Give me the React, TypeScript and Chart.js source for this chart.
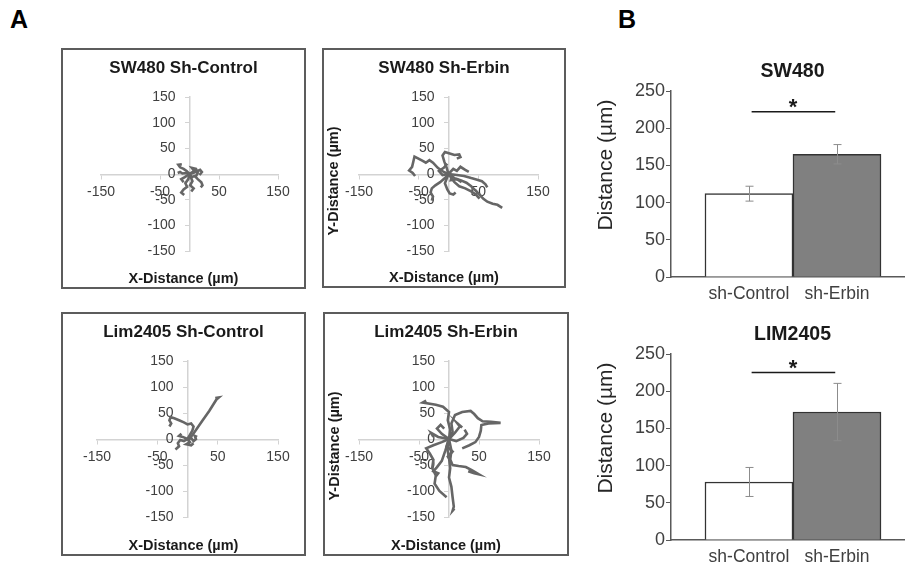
import React, { useEffect, useRef } from "react";
import { Chart, registerables } from "chart.js";

Chart.register(...registerables);

// ---------- DATA ----------
const axisMin = -150;
const axisMax = 150;
const xTickValues = [-150, -50, 50, 150];
const yTickStep = 50;

// cell tracks, [x, y] in µm, starting at the origin
const swControlTracks = [
  [[0, 0], [-5, 6], [-10, 10], [-16, 13], [-19, 18], [-13, 19]],
  [[0, 0], [6, 2], [12, 5], [18, 8], [21, 4], [17, -2]],
  [[0, 0], [-6, 2], [-12, 1], [-16, 4], [-20, 2]],
  [[0, 0], [4, -6], [9, -4], [14, -10], [20, -16], [22, -22], [19, -26]],
  [[0, 0], [-2, -10], [-7, -18], [-4, -25], [-10, -30], [-14, -36], [-9, -41]],
  [[0, 0], [5, -14], [1, -22], [7, -28], [3, -34]],
  [[0, 0], [8, 6], [4, 12], [11, 10], [14, 2], [10, -6]],
  [[0, 0], [-8, -6], [-14, -10], [-10, -16]],
];

const swErbinTracks = [
  [[0, 0], [-8, 4], [-18, 12], [-26, 22], [-32, 27], [-38, 22], [-44, 26], [-52, 31], [-57, 34], [-59, 24], [-61, 14], [-66, 7], [-60, 2], [-56, -4]],
  [[0, 0], [-3, 12], [-7, 24], [-10, 36], [-6, 43], [2, 40], [10, 37], [18, 38], [20, 33], [14, 30]],
  [[0, 0], [10, -8], [20, -12], [30, -17], [38, -24], [45, -32], [52, -40], [58, -48], [65, -54], [74, -58], [82, -60], [90, -66]],
  [[0, 0], [14, -2], [26, -4], [38, -8], [48, -11], [56, -14], [62, -20], [65, -26]],
  [[0, 0], [10, -16], [18, -24], [28, -28], [38, -34], [46, -40], [52, -48]],
  [[0, 0], [-6, -8], [-14, -16], [-22, -22], [-28, -28], [-30, -36], [-26, -44], [-28, -52]],
  [[0, 0], [-6, -18], [-2, -30], [2, -38], [8, -40], [12, -36]],
  [[0, 0], [8, 10], [14, 6], [20, 14], [28, 8], [34, 4]],
  [[0, 0], [-10, -2], [-16, 6], [-8, 12], [-2, 20]],
  [[0, 0], [6, -4], [4, -12], [14, -10], [22, -16]],
];

const limControlTracks = [
  [[2, -2], [12, 14], [24, 34], [36, 54], [48, 76], [52, 80], [46, 79]],
  [[0, 0], [4, 8], [8, 16], [10, 24], [6, 30], [0, 28], [-6, 32], [-14, 36], [-22, 40], [-28, 42], [-30, 36], [-27, 30], [-30, 24]],
  [[0, 0], [-6, -4], [-12, -2], [-16, -8], [-14, -14], [-20, -20]],
  [[0, 0], [6, 2], [10, -4], [14, 0], [12, 6], [16, 4]],
  [[0, 0], [-8, 4], [-14, 6], [-10, 10]],
  [[0, 0], [4, -6], [-2, -10], [6, -12], [10, -8]],
];

const limErbinTracks = [
  [[0, 0], [2, 18], [-2, 36], [0, 52], [-10, 62], [-22, 66], [-44, 70], [-38, 74]],
  [[0, 0], [6, 14], [4, 30], [10, 46], [22, 52], [36, 54], [42, 48], [48, 40], [56, 34], [70, 33], [86, 31], [66, 30], [54, 27], [53, 16], [50, 4], [44, -6], [34, -12], [22, -18]],
  [[0, 0], [-3, -18], [0, -36], [2, -56], [0, -74], [4, -92], [6, -112], [8, -130], [6, -138], [9, -134]],
  [[0, 0], [-12, -6], [-26, -12], [-38, -18], [-32, -28], [-26, -40], [-28, -56], [-22, -70], [-24, -86], [-16, -100], [-4, -112]],
  [[0, 0], [4, -22], [2, -40], [6, -50], [16, -52], [28, -54], [38, -60], [50, -68], [42, -66], [32, -62]],
  [[0, 0], [-6, -22], [-12, -42], [-20, -54], [-26, -62], [-18, -66], [-22, -72]],
  [[0, 0], [-12, 10], [-20, 20], [-14, 27], [-8, 20]],
  [[0, 0], [10, 12], [18, 24], [14, 30], [22, 22]],
  [[0, 0], [-18, 4], [-30, 12], [-26, 4]],
  [[0, 0], [12, -4], [24, 2], [30, 10], [26, 18]],
  [[0, 0], [-4, -14], [6, -24], [-2, -34], [4, -44]],
];

const barCategories = ["sh-Control", "sh-Erbin"];
const sw480Means = [112, 165];
const sw480Errors = [10, 13];
const lim2405Means = [78, 172];
const lim2405Errors = [19.5, 38.5];
const sigLevels = [222, 225];
const barYMax = 250;
const barYStep = 50;

// ---------- STYLE ----------
const FONT = '"Liberation Sans", Arial, sans-serif';
const TRACK_COLOR = "#666666";
const AXIS_LIGHT = "#d3d3d3";
const TICK_COLOR = "#404040";
const TEXT_DARK = "#1a1a1a";

const trackPanels = [
  { key: "p1", x: 61, y: 48, w: 245, h: 241, area: { l: 40, r: 217, t: 49, b: 203 }, title: "SW480 Sh-Control", tracks: swControlTracks, yTitle: false },
  { key: "p2", x: 322, y: 48, w: 244, h: 240, area: { l: 37, r: 216, t: 49, b: 203 }, title: "SW480 Sh-Erbin", tracks: swErbinTracks, yTitle: true },
  { key: "p3", x: 61, y: 312, w: 245, h: 244, area: { l: 36, r: 217, t: 49, b: 205 }, title: "Lim2405 Sh-Control", tracks: limControlTracks, yTitle: false },
  { key: "p4", x: 323, y: 312, w: 246, h: 244, area: { l: 36, r: 216, t: 49, b: 205 }, title: "Lim2405 Sh-Erbin", tracks: limErbinTracks, yTitle: true },
];

function textPlugin(items: any[]) {
  return {
    id: "panelText",
    afterDraw(chart: any) {
      const ctx = chart.ctx;
      for (const t of items) {
        ctx.save();
        ctx.font = t.font;
        ctx.fillStyle = t.color;
        ctx.textAlign = "center";
        ctx.textBaseline = t.baseline || "middle";
        ctx.translate(t.x, t.y);
        if (t.rotate) ctx.rotate(t.rotate);
        ctx.fillText(t.text, 0, 0);
        ctx.restore();
      }
    },
  };
}

function TrackPanel({ p }: any) {
  const ref = useRef<HTMLCanvasElement>(null);
  useEffect(() => {
    const a = p.area;
    const items: any[] = [
      { text: p.title, x: p.w / 2, y: 20.5, font: `bold 17px ${FONT}`, color: TEXT_DARK },
      { text: "X-Distance (µm)", x: p.w / 2, y: p.h - 10, font: `bold 14.5px ${FONT}`, color: TEXT_DARK },
    ];
    if (p.yTitle) {
      items.push({ text: "Y-Distance (µm)", x: 12, y: (a.t + a.b) / 2 + 7, font: `bold 14.5px ${FONT}`, color: TEXT_DARK, rotate: -Math.PI / 2 });
    }
    const chart = new Chart(ref.current as HTMLCanvasElement, {
      type: "scatter",
      data: {
        datasets: p.tracks.map((t: number[][]) => ({
          data: t.map(([x, y]) => ({ x, y })),
          showLine: true,
          pointRadius: 0,
          borderColor: TRACK_COLOR,
          backgroundColor: TRACK_COLOR,
          borderWidth: 2.6,
          tension: 0,
        })),
      },
      options: {
        responsive: false,
        animation: false,
        events: [],
        layout: { padding: { left: a.l, right: p.w - a.r, top: a.t, bottom: p.h - a.b } },
        plugins: { legend: { display: false }, tooltip: { enabled: false } },
        scales: {
          x: {
            type: "linear",
            position: "center",
            min: axisMin,
            max: axisMax,
            afterBuildTicks: (s: any) => {
              s.ticks = xTickValues.map((v) => ({ value: v }));
            },
            afterFit: (s: any) => {
              s.height = 0;
            },
            grid: { drawOnChartArea: false, drawTicks: true, tickLength: 4, color: AXIS_LIGHT, lineWidth: 1 },
            border: { display: true, color: AXIS_LIGHT, width: 1.5 },
            ticks: { font: { family: FONT, size: 14 }, color: TICK_COLOR, padding: 6, maxRotation: 0, autoSkip: false },
          },
          y: {
            type: "linear",
            position: "center",
            min: axisMin,
            max: axisMax,
            afterFit: (s: any) => {
              s.width = 0;
            },
            grid: { drawOnChartArea: false, drawTicks: true, tickLength: 4, color: AXIS_LIGHT, lineWidth: 1 },
            border: { display: true, color: AXIS_LIGHT, width: 1.5 },
            ticks: { stepSize: yTickStep, font: { family: FONT, size: 14 }, color: TICK_COLOR, padding: 10, autoSkip: false },
          },
        },
      } as any,
      plugins: [textPlugin(items)],
    });
    return () => chart.destroy();
  }, []);
  return (
    <div style={{ position: "absolute", left: p.x, top: p.y, width: p.w, height: p.h }}>
      <canvas ref={ref} width={p.w} height={p.h} style={{ position: "absolute", left: 0, top: 0, display: "block" }} />
      <div
        style={{
          position: "absolute",
          left: 0,
          top: 0,
          width: p.w,
          height: p.h,
          border: "2px solid #5c5c5c",
          boxSizing: "border-box",
          pointerEvents: "none",
        }}
      />
    </div>
  );
}

const barPanels = [
  { key: "b1", y: 40, title: "SW480", means: sw480Means, errors: sw480Errors, sig: sigLevels[0] },
  { key: "b2", y: 303, title: "LIM2405", means: lim2405Means, errors: lim2405Errors, sig: sigLevels[1] },
];

const BAR_W = 345;
const BAR_H = 262;

function BarPanel({ b }: any) {
  const ref = useRef<HTMLCanvasElement>(null);
  useEffect(() => {
    const items = [
      { text: "Distance (µm)", x: 26, y: 125, font: `21px ${FONT}`, color: "#262626", rotate: -Math.PI / 2 },
    ];
    const extras = {
      id: "barExtras",
      afterDatasetsDraw(chart: any) {
        const ctx = chart.ctx;
        const ys = chart.scales.y;
        const xs = chart.scales.x;
        const meta = chart.getDatasetMeta(0);
        ctx.save();
        ctx.strokeStyle = "#8c8c8c";
        ctx.lineWidth = 1;
        meta.data.forEach((bar: any, i: number) => {
          const x = Math.round(bar.x) + 0.5;
          const top = ys.getPixelForValue(b.means[i] + b.errors[i]);
          const bot = ys.getPixelForValue(b.means[i] - b.errors[i]);
          ctx.beginPath();
          ctx.moveTo(x, top);
          ctx.lineTo(x, bot);
          ctx.moveTo(x - 4, top);
          ctx.lineTo(x + 4, top);
          ctx.moveTo(x - 4, bot);
          ctx.lineTo(x + 4, bot);
          ctx.stroke();
        });
        // significance bar
        const ly = ys.getPixelForValue(b.sig);
        ctx.strokeStyle = TEXT_DARK;
        ctx.lineWidth = 1.5;
        ctx.beginPath();
        ctx.moveTo(xs.getPixelForValue(0.03), ly);
        ctx.lineTo(xs.getPixelForValue(0.98), ly);
        ctx.stroke();
        ctx.fillStyle = TEXT_DARK;
        ctx.font = `bold 22px ${FONT}`;
        ctx.textAlign = "center";
        ctx.textBaseline = "alphabetic";
        ctx.fillText("*", xs.getPixelForValue(0.5), ly + 2);
        ctx.restore();
      },
    };
    const chart = new Chart(ref.current as HTMLCanvasElement, {
      type: "bar",
      data: {
        datasets: [
          {
            data: b.means.map((m: number, i: number) => ({ x: i, y: m })),
            backgroundColor: ["#ffffff", "#808080"],
            borderColor: "#333333",
            borderWidth: 1.5,
            categoryPercentage: 1,
            barPercentage: 1,
          },
        ],
      },
      options: {
        responsive: false,
        animation: false,
        events: [],
        layout: { padding: { left: 0, right: 11, top: 0, bottom: 0 } },
        plugins: {
          legend: { display: false },
          tooltip: { enabled: false },
          title: {
            display: true,
            text: b.title,
            fullSize: false,
            font: { family: FONT, size: 19.5, weight: "bold" },
            color: TEXT_DARK,
            padding: { top: 20, bottom: 7.6 },
          },
        },
        scales: {
          x: {
            type: "linear",
            position: "bottom",
            offset: false,
            min: -0.886,
            max: 1.875,
            afterBuildTicks: (s: any) => {
              s.ticks = barCategories.map((_, i) => ({ value: i }));
            },
            afterFit: (s: any) => {
              s.height = 25;
            },
            grid: { display: true, drawOnChartArea: false, drawTicks: false, color: "#595959" },
            border: { display: true, color: "#595959", width: 1.5 },
            ticks: {
              callback: (v: any) => barCategories[Math.round(v)],
              font: { family: FONT, size: 17.5 },
              color: TICK_COLOR,
              padding: 7,
              maxRotation: 0,
              autoSkip: false,
            },
          },
          y: {
            type: "linear",
            position: "left",
            min: 0,
            max: barYMax,
            afterFit: (s: any) => {
              s.width = 91;
            },
            grid: { drawOnChartArea: false, drawTicks: true, tickLength: 5, color: "#595959" },
            border: { display: true, color: "#595959", width: 1.5 },
            ticks: { stepSize: barYStep, font: { family: FONT, size: 18 }, color: TICK_COLOR, padding: 1 },
          },
        },
      } as any,
      plugins: [extras, textPlugin(items)],
    });
    return () => chart.destroy();
  }, []);
  return (
    <div style={{ position: "absolute", left: 580, top: b.y, width: 325, height: BAR_H, overflow: "hidden" }}>
      <canvas ref={ref} width={BAR_W} height={BAR_H} style={{ position: "absolute", left: 0, top: 0, display: "block" }} />
    </div>
  );
}

export default function App() {
  const letter: React.CSSProperties = {
    position: "absolute",
    fontFamily: FONT,
    fontWeight: "bold",
    fontSize: 25,
    lineHeight: "25px",
    color: "#000",
    margin: 0,
  };
  return (
    <div style={{ position: "absolute", left: 0, top: 0, width: 905, height: 571, background: "#fff", overflow: "hidden" }}>
      <div style={{ ...letter, left: 10, top: 7 }}>A</div>
      <div style={{ ...letter, left: 618, top: 7 }}>B</div>
      {trackPanels.map((p) => (
        <TrackPanel key={p.key} p={p} />
      ))}
      {barPanels.map((b) => (
        <BarPanel key={b.key} b={b} />
      ))}
    </div>
  );
}
